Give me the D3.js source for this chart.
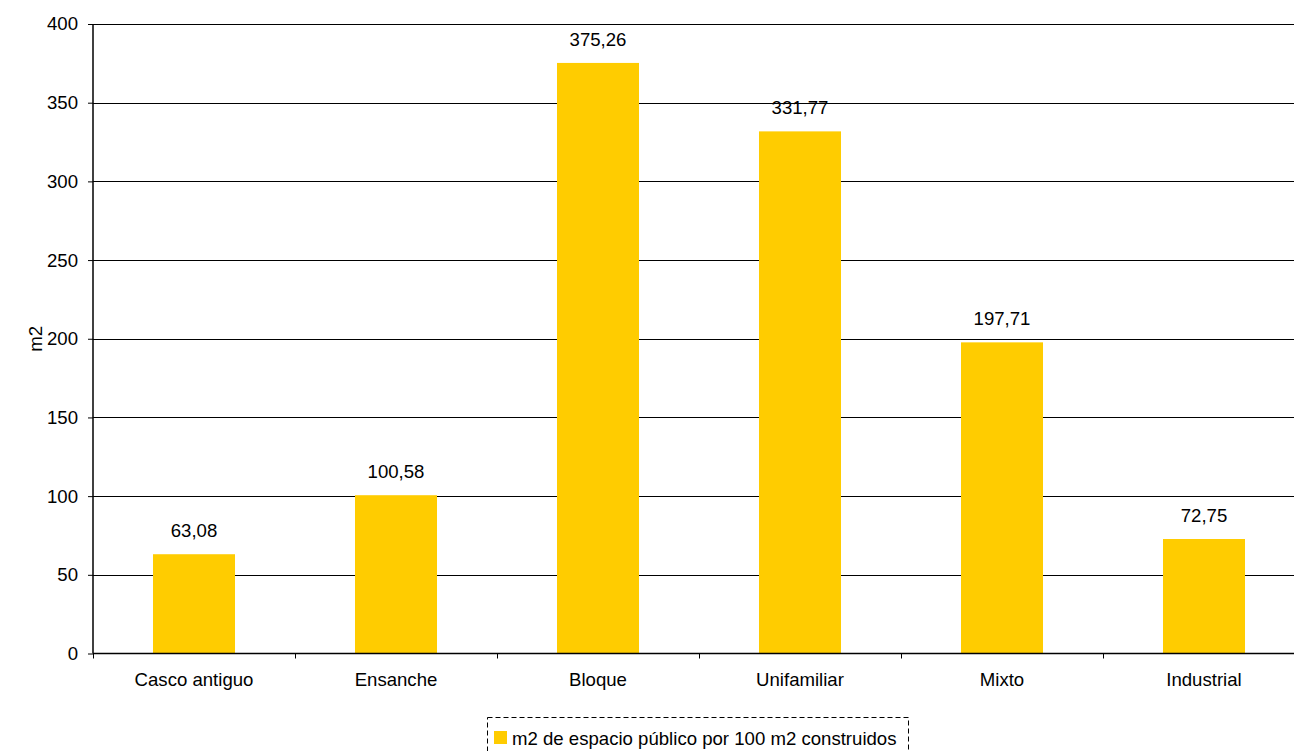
<!DOCTYPE html>
<html>
<head>
<meta charset="utf-8">
<script src="https://cdn.jsdelivr.net/npm/d3@7"></script>
<style>
  html, body { margin: 0; padding: 0; background: #fff; }
  svg { display: block; font-family: "Liberation Sans", Arial, sans-serif; }
</style>
</head>
<body>
<svg id="chart" width="1294" height="751"></svg>
<script>
// Public space per 100 m2 built, by urban fabric type
const categories = ["Casco antiguo", "Ensanche", "Bloque", "Unifamiliar", "Mixto", "Industrial"];
const values = [63.08, 100.58, 375.26, 331.77, 197.71, 72.75];
const valueLabels = ["63,08", "100,58", "375,26", "331,77", "197,71", "72,75"];
const yTicks = [0, 50, 100, 150, 200, 250, 300, 350, 400];
const seriesName = "m2 de espacio público por 100 m2 construidos";
const yTitle = "m2";

(function draw() {
  const svg = d3.select("#chart");
  const fontSize = 18.6;
  const plotLeft = 93, plotTop = 24, plotBottom = 653.5, band = 202;
  const plotRight = plotLeft + band * categories.length;

  const x = d3.scaleBand().domain(categories).range([plotLeft, plotRight]).paddingInner(0.594).paddingOuter(0.297);
  const y = d3.scaleLinear().domain([0, 400]).range([plotBottom, plotTop]);

  // horizontal gridlines
  svg.append("g").selectAll("line").data(yTicks.filter(d => d > 0)).join("line")
    .attr("x1", plotLeft).attr("x2", plotRight)
    .attr("y1", d => Math.round(y(d)) + 0.5).attr("y2", d => Math.round(y(d)) + 0.5)
    .attr("stroke", "#000").attr("stroke-width", 1);

  // bars
  svg.append("g").selectAll("rect").data(values).join("rect")
    .attr("x", (d, i) => x(categories[i]))
    .attr("width", x.bandwidth())
    .attr("y", d => y(d))
    .attr("height", d => y(0) - y(d))
    .attr("fill", "#FFCC00");

  // value labels
  svg.append("g").selectAll("text").data(values).join("text")
    .attr("x", (d, i) => x(categories[i]) + x.bandwidth() / 2)
    .attr("y", d => y(d) - 17)
    .attr("text-anchor", "middle")
    .attr("font-size", fontSize).attr("fill", "#000")
    .text((d, i) => valueLabels[i]);

  // y axis
  const yAxis = d3.axisLeft(y).tickValues(yTicks).tickSize(5).tickPadding(10).tickFormat(d3.format("d"));
  const gy = svg.append("g").attr("transform", `translate(${plotLeft},0)`).call(yAxis);
  gy.select(".domain").attr("stroke", "#000").attr("stroke-width", 1.5).attr("d", `M0,${y(400)}V${plotBottom}`);
  gy.selectAll(".tick line").attr("stroke", "#000");
  gy.selectAll(".tick text").attr("font-size", fontSize).attr("fill", "#000").attr("font-family", "Liberation Sans, Arial, sans-serif");

  // x axis with ticks at category boundaries
  const boundaries = d3.range(categories.length + 1).map(i => plotLeft + i * band);
  svg.append("line").attr("x1", plotLeft).attr("x2", plotRight).attr("y1", plotBottom).attr("y2", plotBottom)
    .attr("stroke", "#000").attr("stroke-width", 1.5);
  svg.append("g").selectAll("line").data(boundaries).join("line")
    .attr("x1", d => d + 0.5).attr("x2", d => d + 0.5)
    .attr("y1", plotBottom).attr("y2", plotBottom + 5)
    .attr("stroke", "#000");
  svg.append("g").selectAll("text").data(categories).join("text")
    .attr("x", d => x(d) + x.bandwidth() / 2)
    .attr("y", 686)
    .attr("text-anchor", "middle")
    .attr("font-size", fontSize).attr("fill", "#000")
    .text(d => d);

  // y axis title
  svg.append("text")
    .attr("transform", `translate(42,${(plotTop + plotBottom) / 2}) rotate(-90)`)
    .attr("text-anchor", "middle")
    .attr("font-size", fontSize).attr("fill", "#000")
    .text(yTitle);

  // legend
  const lg = svg.append("g");
  lg.append("rect").attr("x", 487.5).attr("y", 717.5).attr("width", 421).attr("height", 40)
    .attr("fill", "none").attr("stroke", "#000").attr("stroke-dasharray", "5,3");
  lg.append("rect").attr("x", 494).attr("y", 731).attr("width", 13).attr("height", 13).attr("fill", "#FFCC00");
  lg.append("text").attr("x", 512).attr("y", 745).attr("font-size", fontSize).attr("fill", "#000").text(seriesName);
})();
</script>
</body>
</html>
